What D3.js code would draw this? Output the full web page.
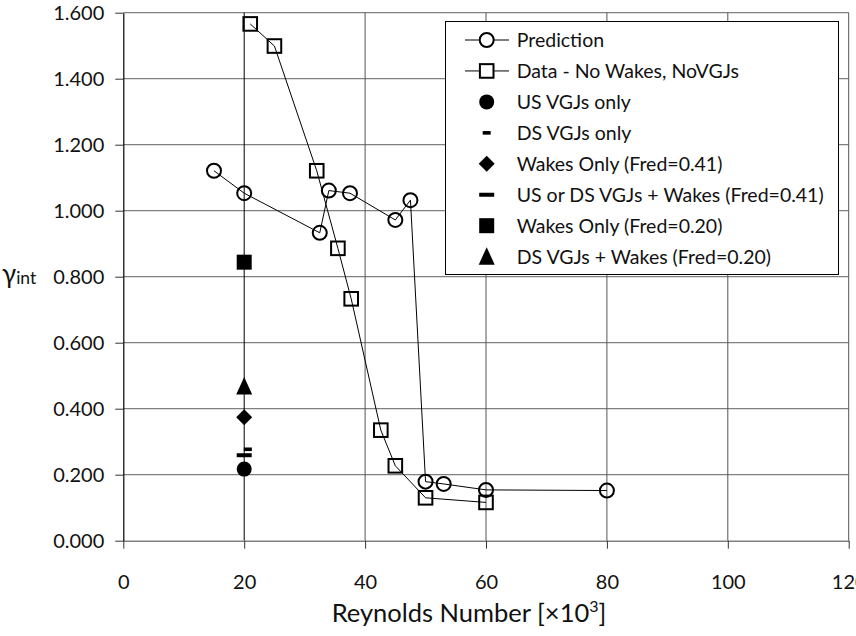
<!DOCTYPE html>
<html>
<head>
<meta charset="utf-8">
<script src="https://cdn.jsdelivr.net/npm/d3@7"></script>
<style>
  html, body { margin: 0; padding: 0; background: #fff; }
  svg { display: block; font-family: Lato, "Open Sans", sans-serif; }
</style>
</head>
<body>
<svg id="chart" width="856" height="636"></svg>
<script>
// ---------------- data ----------------
const predX = [15, 20, 32.5, 34, 37.5, 45, 47.5, 50, 53, 60, 80];
const predY = [1.121, 1.053, 0.933, 1.061, 1.053, 0.972, 1.032, 0.179, 0.172, 0.154, 0.152];

const dataX = [21, 25, 32, 35.5, 37.7, 42.6, 45, 50, 60];
const dataY = [1.566, 1.499, 1.121, 0.886, 0.733, 0.335, 0.227, 0.130, 0.116];

// single-point series at Re = 20k
const singleNames = ["US VGJs only", "DS VGJs only", "Wakes Only (Fred=0.41)",
                     "US or DS VGJs + Wakes (Fred=0.41)", "Wakes Only (Fred=0.20)",
                     "DS VGJs + Wakes (Fred=0.20)"];
const singleX = [20, 20.6, 20, 20, 20, 20];
const singleY = [0.217, 0.277, 0.374, 0.259, 0.844, 0.467];
const singleShape = ["circle", "smalldash", "diamond", "dash", "square", "triangle"];

const legendLabels = ["Prediction", "Data - No Wakes, NoVGJs"].concat(singleNames);
const legendShapes = ["opencircle", "opensquare"].concat(singleShape);

const yTicks = [0, 0.2, 0.4, 0.6, 0.8, 1.0, 1.2, 1.4, 1.6];
const xTicks = [0, 20, 40, 60, 80, 100, 120];

// ---------------- layout ----------------
const svg = d3.select("#chart");
const x = d3.scaleLinear().domain([0, 120]).range([123.3, 848.7]);
const y = d3.scaleLinear().domain([0, 1.6]).range([540.7, 12.7]);

const gridColor = "#808080";

// horizontal gridlines
svg.append("g").selectAll("line").data(yTicks.filter(d => d > 0)).join("line")
  .attr("x1", x(0)).attr("x2", x(120))
  .attr("y1", d => y(d)).attr("y2", d => y(d))
  .attr("stroke", gridColor).attr("stroke-width", 1.2);

// vertical gridlines
svg.append("g").selectAll("line").data(xTicks.filter(d => d > 0)).join("line")
  .attr("x1", d => x(d)).attr("x2", d => x(d))
  .attr("y1", y(1.6)).attr("y2", y(0))
  .attr("stroke", d => d === 20 ? "#000" : "#555").attr("stroke-width", 1);

// x axis
const xAxis = svg.append("g").attr("transform", `translate(0,${y(0)})`)
  .call(d3.axisBottom(x).tickValues(xTicks).tickSizeInner(8).tickSizeOuter(0).tickPadding(10));
xAxis.select(".domain").attr("stroke", gridColor).attr("stroke-width", 1.5);
xAxis.selectAll(".tick line").attr("stroke", "#333");
xAxis.selectAll(".tick text").attr("font-size", 20).attr("fill", "#111")
  .attr("font-family", "Lato").attr("dy", null).attr("y", 48);

// y axis
const yAxis = svg.append("g").attr("transform", `translate(${x(0)},0)`)
  .call(d3.axisLeft(y).tickValues(yTicks).tickFormat(d3.format(".3f"))
        .tickSizeInner(8).tickSizeOuter(0).tickPadding(11));
yAxis.select(".domain").attr("stroke", "#000").attr("stroke-width", 1.2);
yAxis.selectAll(".tick line").attr("stroke", "#333");
yAxis.selectAll(".tick text").attr("font-size", 20).attr("fill", "#111")
  .attr("font-family", "Lato");

// axis titles
const xt = svg.append("text").attr("x", 469).attr("y", 622).attr("text-anchor", "middle")
  .attr("font-size", 25.5).attr("fill", "#111");
xt.append("tspan").text("Reynolds Number [×10");
xt.append("tspan").attr("dy", -10).attr("font-size", 16).text("3");
xt.append("tspan").attr("dy", 10).text("]");

const yt = svg.append("text").attr("x", 2).attr("y", 283).attr("fill", "#111");
yt.append("tspan").attr("font-size", 26).text("γ");
yt.append("tspan").attr("font-size", 17.5).attr("dy", 1).text("int");

// ---------------- series ----------------
const line = d3.line().x(d => x(d[0])).y(d => y(d[1]));
const predPts = predX.map((v, i) => [v, predY[i]]);
const dataPts = dataX.map((v, i) => [v, dataY[i]]);

svg.append("path").datum(predPts).attr("d", line)
  .attr("fill", "none").attr("stroke", "#000").attr("stroke-width", 1);
svg.append("path").datum(dataPts).attr("d", line)
  .attr("fill", "none").attr("stroke", "#000").attr("stroke-width", 1);

function drawShape(g, shape, cx, cy, legendMode) {
  const fillOpen = legendMode ? "#fff" : "none";
  switch (shape) {
    case "opencircle":
      g.append("circle").attr("cx", cx).attr("cy", cy).attr("r", 7)
        .attr("fill", fillOpen).attr("stroke", "#000").attr("stroke-width", 2);
      break;
    case "opensquare":
      g.append("rect").attr("x", cx - 6.8).attr("y", cy - 6.8).attr("width", 13.6).attr("height", 13.6)
        .attr("fill", fillOpen).attr("stroke", "#000").attr("stroke-width", 2);
      break;
    case "circle":
      g.append("circle").attr("cx", cx).attr("cy", cy).attr("r", 7.5).attr("fill", "#000");
      break;
    case "smalldash":
      g.append("rect").attr("x", cx - 4).attr("y", cy - 1.8).attr("width", 8).attr("height", 3.6).attr("fill", "#000");
      break;
    case "dash":
      g.append("rect").attr("x", cx - 7.5).attr("y", cy - 2).attr("width", 15).attr("height", 4).attr("fill", "#000");
      break;
    case "diamond":
      g.append("path").attr("d", `M${cx},${cy - 8}L${cx + 8},${cy}L${cx},${cy + 8}L${cx - 8},${cy}Z`).attr("fill", "#000");
      break;
    case "square":
      g.append("rect").attr("x", cx - 7.5).attr("y", cy - 7.5).attr("width", 15).attr("height", 15).attr("fill", "#000");
      break;
    case "triangle":
      g.append("path").attr("d", `M${cx},${cy - 9.5}L${cx + 8},${cy + 8}L${cx - 8},${cy + 8}Z`).attr("fill", "#000");
      break;
  }
}

const markG = svg.append("g");
predPts.forEach(p => drawShape(markG, "opencircle", x(p[0]), y(p[1]), false));
dataPts.forEach(p => drawShape(markG, "opensquare", x(p[0]), y(p[1]), false));
singleX.forEach((v, i) => drawShape(markG, singleShape[i], x(v), y(singleY[i]), false));

// ---------------- legend ----------------
const lg = svg.append("g");
lg.append("rect").attr("x", 445.5).attr("y", 21.5).attr("width", 393).attr("height", 253)
  .attr("fill", "#fff").attr("stroke", "#000").attr("stroke-width", 1);
const rowY0 = 40, rowStep = 30.95, symX = 486.7, textX = 516.7;
legendLabels.forEach((lab, i) => {
  const cy = rowY0 + i * rowStep;
  if (i < 2) {
    lg.append("line").attr("x1", 465).attr("x2", 509).attr("y1", cy).attr("y2", cy)
      .attr("stroke", "#000").attr("stroke-width", 1);
  }
  drawShape(lg, legendShapes[i], symX, cy, true);
  lg.append("text").attr("x", textX).attr("y", cy).attr("dy", "0.36em")
    .attr("font-size", 19.5).attr("fill", "#111").text(lab);
});
</script>
</body>
</html>
